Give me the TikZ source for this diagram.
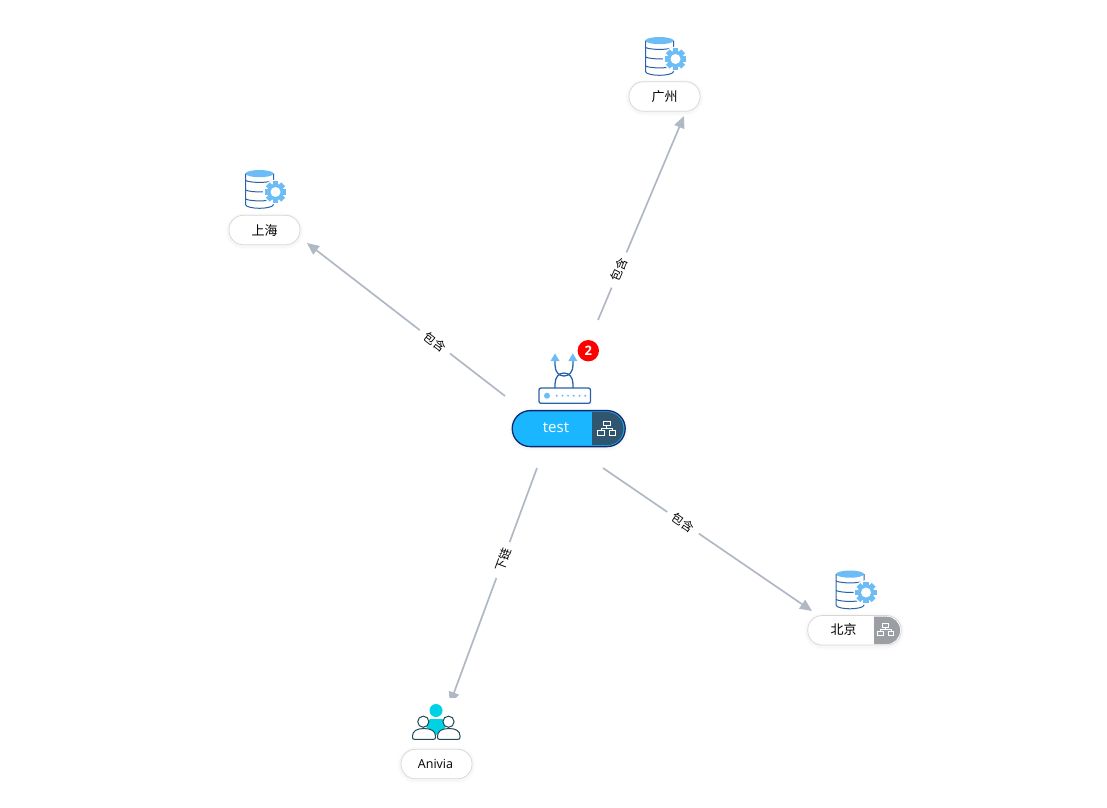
\documentclass[tikz,border=0pt]{standalone}
\usepackage{fontspec}
\setmainfont{Open Sans}
\newfontfamily\cjk{Noto Sans CJK SC}
\usetikzlibrary{arrows.meta}
\definecolor{linkgray}{HTML}{B0B8C4}
\definecolor{iconblue}{HTML}{2A62A8}
\definecolor{skyblue}{HTML}{6CBCF5}
\definecolor{hubblue}{HTML}{1AB6FF}
\definecolor{hubnavy}{HTML}{12286E}
\definecolor{hubslate}{HTML}{2F566E}
\definecolor{badgegray}{HTML}{9B9EA3}
\definecolor{usercyan}{HTML}{00D2E6}
\definecolor{userdark}{HTML}{1F4A55}
\tikzset{
    softshadow/.style = {
        preaction={draw=black, draw opacity=.012, line width=7pt, transform canvas={yshift=-1pt}},
        preaction={draw=black, draw opacity=.02, line width=4pt, transform canvas={yshift=-1pt}}},
    pill/.style = {draw=black!16, line width=.7pt, fill=white, rectangle, rounded corners=14.5pt,
        minimum height=29.5pt, minimum width=71pt, inner sep=0pt, softshadow,
        font=\cjk\fontsize{13}{15}\selectfont},
    hubpill/.style = {draw=hubnavy, fill=hubblue, line width=1.3pt, rectangle, rounded corners=18pt,
        minimum height=36pt, minimum width=113pt, inner sep=0pt, softshadow},
    plain/.style = {inner sep=0pt},
    link/.style = {draw=linkgray, line width=1.7pt, -{Triangle[length=12pt,width=10.5pt]}},
    linklabel/.style = {fill=white, sloped, inner xsep=7pt, inner ysep=1pt,
        font=\cjk\fontsize{12}{14}\selectfont},
    database/.pic = {
        \fill[skyblue] (0,3.6) ellipse (14 and 3.6);
        \draw[iconblue, line width=1pt] (-14,3.6) -- (-14,34.5) .. controls (-14,37) and (-6,38.3) .. (0,38.3)
            .. controls (6,38.3) and (14,37) .. (14,34.5) -- (14,3.6);
        \foreach \yy in {13,22.5,31.5}
            \draw[iconblue, line width=1pt] (-14,\yy-2.5) .. controls (-9,\yy) and (9,\yy) .. (14,\yy-2.5);
        \fill[white] (16,22) circle (12.5);
        \fill[skyblue] (16,22) circle (8.2);
        \foreach \aa in {0,45,...,315}
            \fill[skyblue, shift={(16,22)}, rotate=\aa] (-2.7,-10.8) rectangle (2.7,0);
        \fill[white] (16,22) circle (5);
    },
    treemark/.pic = {
        \draw[white, line width=.8pt] (-3.3,-7) rectangle (3.3,-2.2)
            (-9,2.2) rectangle (-2.6,7) (2.6,2.2) rectangle (9,7)
            (0,-2.2) -- (0,0) (-5.8,2.2) -- (-5.8,0) -- (5.8,0) -- (5.8,2.2);
    }
}
\begin{document}
\begin{tikzpicture}[x=1pt, y=-1pt]
    \useasboundingbox (0,0) rectangle (1107,807);
    \coordinate (hubnw) at (505,396);
    \coordinate (hubne) at (598,320);
    \coordinate (hubsw) at (537,468);
    \coordinate (hubse) at (603,468);
    \coordinate (shtip) at (307,243);
    \coordinate (gztip) at (684,116);
    \coordinate (bjtip) at (812,611);
    \coordinate (antip) at (449.8,704);
    \draw[link] (hubnw) -- node[linklabel, pos=.354] (shlabel) {包含} (shtip);
    \draw[link] (hubne) -- node[linklabel, pos=.245] (gzlabel) {包含} (gztip);
    \draw[link] (hubse) -- node[linklabel, pos=.383] (bjlabel) {包含} (bjtip);
    \draw[link] (hubsw) -- node[linklabel, pos=.39] (anlabel) {下链} (antip);
    \node[fill=white, minimum width=60pt, minimum height=48pt, inner sep=0pt] (anbox) at (436,721.5) {};

    \pic at (659.5,37) {database};
    \node[pill] (gz) at (664.5,96.5) {\raisebox{.7pt}{广州}};
    \pic at (259.5,170) {database};
    \node[pill] (sh) at (264.5,230) {\raisebox{.7pt}{上海}};
    \pic at (850,570.5) {database};
    \node[pill, minimum width=93.5pt] (bj) at (854.5,630.3) {};
    \begin{scope}
        \clip[rounded corners=13.5pt] (808.7,616.7) rectangle (900,644);
        \fill[badgegray] (874,616) rectangle (902,645);
    \end{scope}
    \node[plain, font=\cjk\fontsize{13}{15}\selectfont] (bjname) at (843.5,629.3) {北京};
    \pic[scale=.9] at (885.7,629.3) {treemark};

    \fill[usercyan] (430,719) -- (442.5,719) -- (447,726) -- (436,735) -- (425,726) -- cycle;
    \fill[usercyan] (436,710.5) circle (6.5);
    \draw[userdark, fill=white, line width=1pt] (423.3,721.7) circle (5.6) (448.5,721.7) circle (5.6);
    \draw[userdark, fill=white, line width=1pt] (412.5,736) .. controls (412.5,731) and (417,728.5) .. (424,728.5)
        .. controls (431,728.5) and (435.5,731) .. (435.5,736) -- (435.5,737) .. controls (435.5,738.7) and (435,739.3) .. (433.5,739.3)
        -- (414.5,739.3) .. controls (413,739.3) and (412.5,738.7) .. (412.5,737) -- cycle;
    \draw[userdark, fill=white, line width=1pt] (437.5,736) .. controls (437.5,731) and (442,728.5) .. (449,728.5)
        .. controls (456,728.5) and (460,731) .. (460,736) -- (460,737) .. controls (460,738.7) and (459.5,739.3) .. (458,739.3)
        -- (439.5,739.3) .. controls (438,739.3) and (437.5,738.7) .. (437.5,737) -- cycle;
    \node[pill, font=\fontsize{12.5}{14}\selectfont] (an) at (436.5,764) {\hspace*{-2pt}Anivia};

    \draw[iconblue, line width=1.3pt, rounded corners=2pt] (539,388) rectangle (590.5,403.3);
    \fill[skyblue] (547,395.7) circle (3);
    \foreach \xx in {556.7,562.4,568.1,573.8,579.5,585.2}
        \fill[skyblue] (\xx,395.7) circle (1.1);
    \draw[iconblue, line width=1.3pt] (555,360) -- (555,365) .. controls (555,372) and (559,376) .. (564,376)
        .. controls (569,376) and (573,372) .. (573,365) -- (573,360);
    \draw[iconblue, line width=1.3pt] (555,388) -- (555,384) .. controls (555,377) and (559,373) .. (564,373)
        .. controls (569,373) and (573,377) .. (573,384) -- (573,388);
    \fill[skyblue] (555,353.4) -- (559.5,361) -- (550.5,361) -- cycle;
    \fill[skyblue] (572.8,353.4) -- (577.3,361) -- (568.3,361) -- cycle;
    \node[circle, fill=red, minimum size=21.4pt, inner sep=0pt, text=white, font=\bfseries\fontsize{13}{15}\selectfont] (badge) at (588.3,350.7) {2};

    \node[hubpill] (hub) at (568.7,428.6) {};
    \begin{scope}
        \clip[rounded corners=16.5pt] (513.5,412) rectangle (623.5,445.2);
        \fill[hubslate] (592,411) rectangle (626,446);
    \end{scope}
    \node[plain, text=white, font=\fontsize{15}{17}\selectfont] (hubname) at (556,427.5) {test};
    \pic at (606.7,428) {treemark};
\end{tikzpicture}
\end{document}
